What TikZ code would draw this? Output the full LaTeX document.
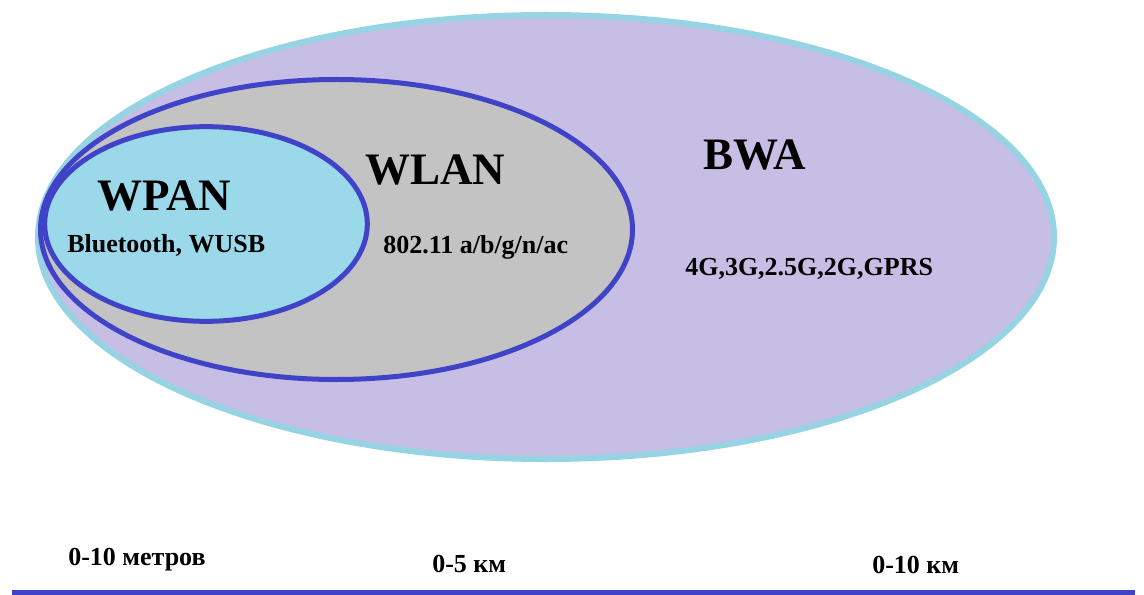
\documentclass[tikz,border=0pt]{standalone}
\usepackage{fontspec}
\setmainfont{Liberation Serif}

\definecolor{lilla}{HTML}{C6BEE4}
\definecolor{celeste}{HTML}{97D4E3}
\definecolor{grigio}{HTML}{C3C3C3}
\definecolor{azzurro}{HTML}{9AD8EA}
\definecolor{blu}{HTML}{4043C8}

\begin{document}
\begin{tikzpicture}[x=0.75pt,y=-0.75pt,
        titolo/.style={font=\bfseries\fontsize{33.75}{40}\selectfont, anchor=base west, inner sep=0pt},
        sotto/.style={font=\bfseries\fontsize{19.5}{23}\selectfont, anchor=base west, inner sep=0pt}]
        \useasboundingbox (0,0) rectangle (1144,595);

        % ellisse BWA
        \draw[line width=4.5pt, draw=celeste, fill=lilla] (546,237) ellipse [x radius=381pt, y radius=166.5pt];
        % ellisse WLAN
        \draw[line width=3.75pt, draw=blu, fill=grigio] (336.5,229.5) ellipse [x radius=222pt, y radius=112.5pt];
        % ellisse WPAN
        \draw[line width=3.75pt, draw=blu, fill=azzurro] (206,224) ellipse [x radius=121pt, y radius=73pt];

        % nomi delle reti
        \node[titolo] (wpan) at (97,210) {WPAN};
        \node[sotto] (bt) at (67,252) {Bluetooth, WUSB};
        \node[titolo] (wlan) at (365,185) {WLAN};
        \node[sotto] (wifi) at (383,253) {802.11 a/b/g/n/ac};
        \node[titolo] (bwa) at (703,170) {BWA};
        \node[sotto] (cell) at (685,275) {4G,3G,2.5G,2G,GPRS};

        % distanze
        \node[sotto] (d1) at (68,565) {0-10 метров};
        \node[sotto] (d2) at (432,572) {0-5 км};
        \node[sotto] (d3) at (872,573) {0-10 км};

        % linea in basso
        \draw[line width=3.75pt, blu] (12,592.5) -- (1135,592.5);
    \end{tikzpicture}
\end{document}
